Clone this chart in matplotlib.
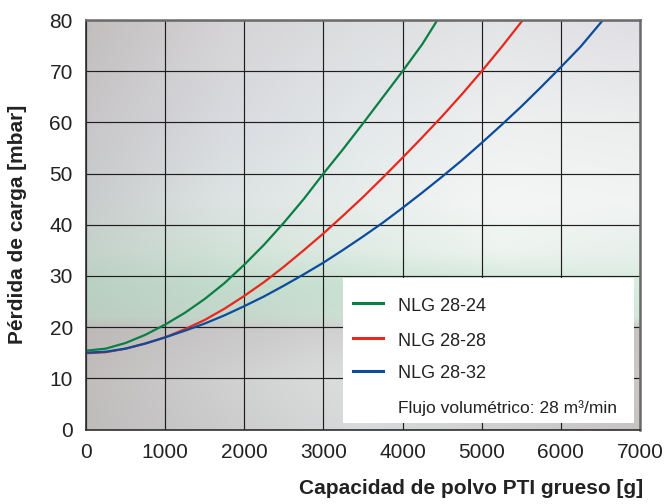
import numpy as np
import matplotlib
matplotlib.use("Agg")
import matplotlib.pyplot as plt
from matplotlib.patches import Rectangle
from matplotlib.lines import Line2D
from matplotlib.colors import to_rgb

plt.rcParams['font.family'] = ['Liberation Sans', 'DejaVu Sans']

# ---- data ----
labels = ["NLG 28-24", "NLG 28-28", "NLG 28-32"]
colors = ["#0a7f45", "#e8281e", "#0b4c9c"]

x_24 = [0, 250, 500, 750, 1000, 1250, 1500, 1750, 2000, 2250, 2500, 2750,
        3000, 3250, 3500, 3750, 4000, 4250, 4440]
y_24 = [15.4, 15.8, 16.9, 18.5, 20.5, 22.8, 25.5, 28.6, 32.2, 36.1, 40.4, 45.0,
        50.0, 54.8, 59.8, 64.9, 70.0, 75.3, 80.0]

x_28 = [0, 250, 500, 750, 1000, 1250, 1500, 1750, 2000, 2250, 2500, 2750,
        3000, 3250, 3500, 3750, 4000, 4250, 4500, 4750, 5000, 5250, 5520]
y_28 = [14.9, 15.1, 15.8, 16.8, 18.0, 19.6, 21.4, 23.6, 26.1, 28.8, 31.8, 35.0,
        38.3, 41.8, 45.4, 49.2, 53.1, 57.1, 61.2, 65.5, 70.0, 74.7, 80.0]

x_32 = [0, 250, 500, 750, 1000, 1250, 1500, 1750, 2000, 2250, 2500, 2750,
        3000, 3250, 3500, 3750, 4000, 4250, 4500, 4750, 5000, 5250, 5500,
        5750, 6000, 6250, 6532]
y_32 = [15.0, 15.2, 15.8, 16.8, 18.0, 19.3, 20.7, 22.3, 24.1, 26.0, 28.1, 30.3,
        32.6, 35.1, 37.7, 40.4, 43.3, 46.3, 49.4, 52.6, 56.0, 59.5, 63.1,
        66.9, 70.8, 74.8, 80.0]

xs = [x_24, x_28, x_32]
ys = [y_24, y_28, y_32]

x_ticks = [0, 1000, 2000, 3000, 4000, 5000, 6000, 7000]
y_ticks = [0, 10, 20, 30, 40, 50, 60, 70, 80]
note = "Flujo volumétrico: 28 m³/min"
xlabel = "Capacidad de polvo PTI grueso [g]"
ylabel = "Pérdida de carga [mbar]"

# ---- figure ----
fig = plt.figure(figsize=(6.66, 5.04), dpi=100)
ax = fig.add_axes([0.1291, 0.1478, 0.8319, 0.8125])
ax.set_xlim(x_ticks[0], x_ticks[-1])
ax.set_ylim(y_ticks[0], y_ticks[-1])

# background gradient (styling)
bg_y = [0, 10, 19.5, 22, 28, 35, 45, 60, 80]
bg_cols = [
    ["#bfbcbc", "#cccccc", "#d8dadb", "#cfcfcf", "#c6c3c3"],
    ["#c1bdbd", "#d0d0d0", "#dde0e0", "#d6d6d6", "#cac7c7"],
    ["#bdb9b9", "#c9c7c7", "#d3d3d3", "#cbc9c9", "#c6c3c3"],
    ["#bccdc2", "#c5d6cb", "#cde0d4", "#d2e4d8", "#d6e8dc"],
    ["#b9d0c2", "#c2dccc", "#c9e2d2", "#d0e7d9", "#d8ece0"],
    ["#c5d2cb", "#d2e2d8", "#e0ece5", "#eef4f0", "#e8f0ec"],
    ["#c9cccc", "#dde3e3", "#e8eeec", "#f4f6f5", "#f2f4f3"],
    ["#c8c6c8", "#d8dadf", "#e4e8ea", "#eef0f0", "#eceeee"],
    ["#c2bebe", "#d5d3d5", "#dcdee0", "#e3e4e6", "#e0dee4"],
]
bg_x = np.linspace(0, 7000, 5)
arr = np.array([[to_rgb(c) for c in row] for row in bg_cols])  # (ny, nx, 3)
H, W = 300, 400
gy = np.linspace(0, 80, H)
gx = np.linspace(0, 7000, W)
tmp = np.empty((len(bg_y), W, 3))
for i in range(len(bg_y)):
    for c in range(3):
        tmp[i, :, c] = np.interp(gx, bg_x, arr[i, :, c])
img = np.empty((H, W, 3))
for j in range(W):
    for c in range(3):
        img[:, j, c] = np.interp(gy, bg_y, tmp[:, j, c])
ax.imshow(img, extent=[0, 7000, 0, 80], origin='lower', aspect='auto',
          zorder=0, interpolation='bilinear')

# grid
ax.set_xticks(x_ticks)
ax.set_yticks(y_ticks)
ax.grid(True, color='#1e1e1e', linewidth=0.85, zorder=1)
ax.set_axisbelow(False)
for gl in ax.get_xgridlines() + ax.get_ygridlines():
    gl.set_zorder(1)

# curves
for x, y, c in zip(xs, ys, colors):
    ax.plot(x, y, color=c, linewidth=1.6, zorder=3, solid_capstyle='butt',
            solid_joinstyle='round')

# legend box (manual)
ax.add_patch(Rectangle((0.4639, 0.0151), 0.5251, 0.3539, transform=ax.transAxes,
                       facecolor='white', edgecolor='none', zorder=4))
row_y = [0.3096, 0.2227, 0.1436]
for ry, lab, c in zip(row_y, labels, colors):
    ax.add_line(Line2D([0.482, 0.5356], [ry, ry], transform=ax.transAxes,
                       color=c, linewidth=2.2, zorder=5))
    ax.text(0.563, ry - 0.008, lab, transform=ax.transAxes, fontsize=13,
            va='center', ha='left', color='#222222', zorder=5)
ax.text(0.563, 0.0525, note, transform=ax.transAxes, fontsize=12.5,
        va='center', ha='left', color='#222222', zorder=5)

# ticks
ax.tick_params(axis='both', length=0, labelsize=15, colors='#222222')
ax.tick_params(axis='x', pad=10)
ax.tick_params(axis='y', pad=9.5)

# spines
for s in ['left', 'bottom']:
    ax.spines[s].set_color('#303030')
    ax.spines[s].set_linewidth(1.2)
for s in ['top', 'right']:
    ax.spines[s].set_color('#6a6a6a')
    ax.spines[s].set_linewidth(1.8)
for s in ax.spines.values():
    s.set_zorder(6)

ax.set_xlabel(xlabel, fontsize=15, fontweight='bold', color='#222222', ha='right')
ax.xaxis.set_label_coords(1.005, -0.122)
ax.set_ylabel(ylabel, fontsize=15, fontweight='bold', color='#222222')
ax.yaxis.set_label_coords(-0.107, 0.5)

fig.savefig("out.png", dpi=100)
